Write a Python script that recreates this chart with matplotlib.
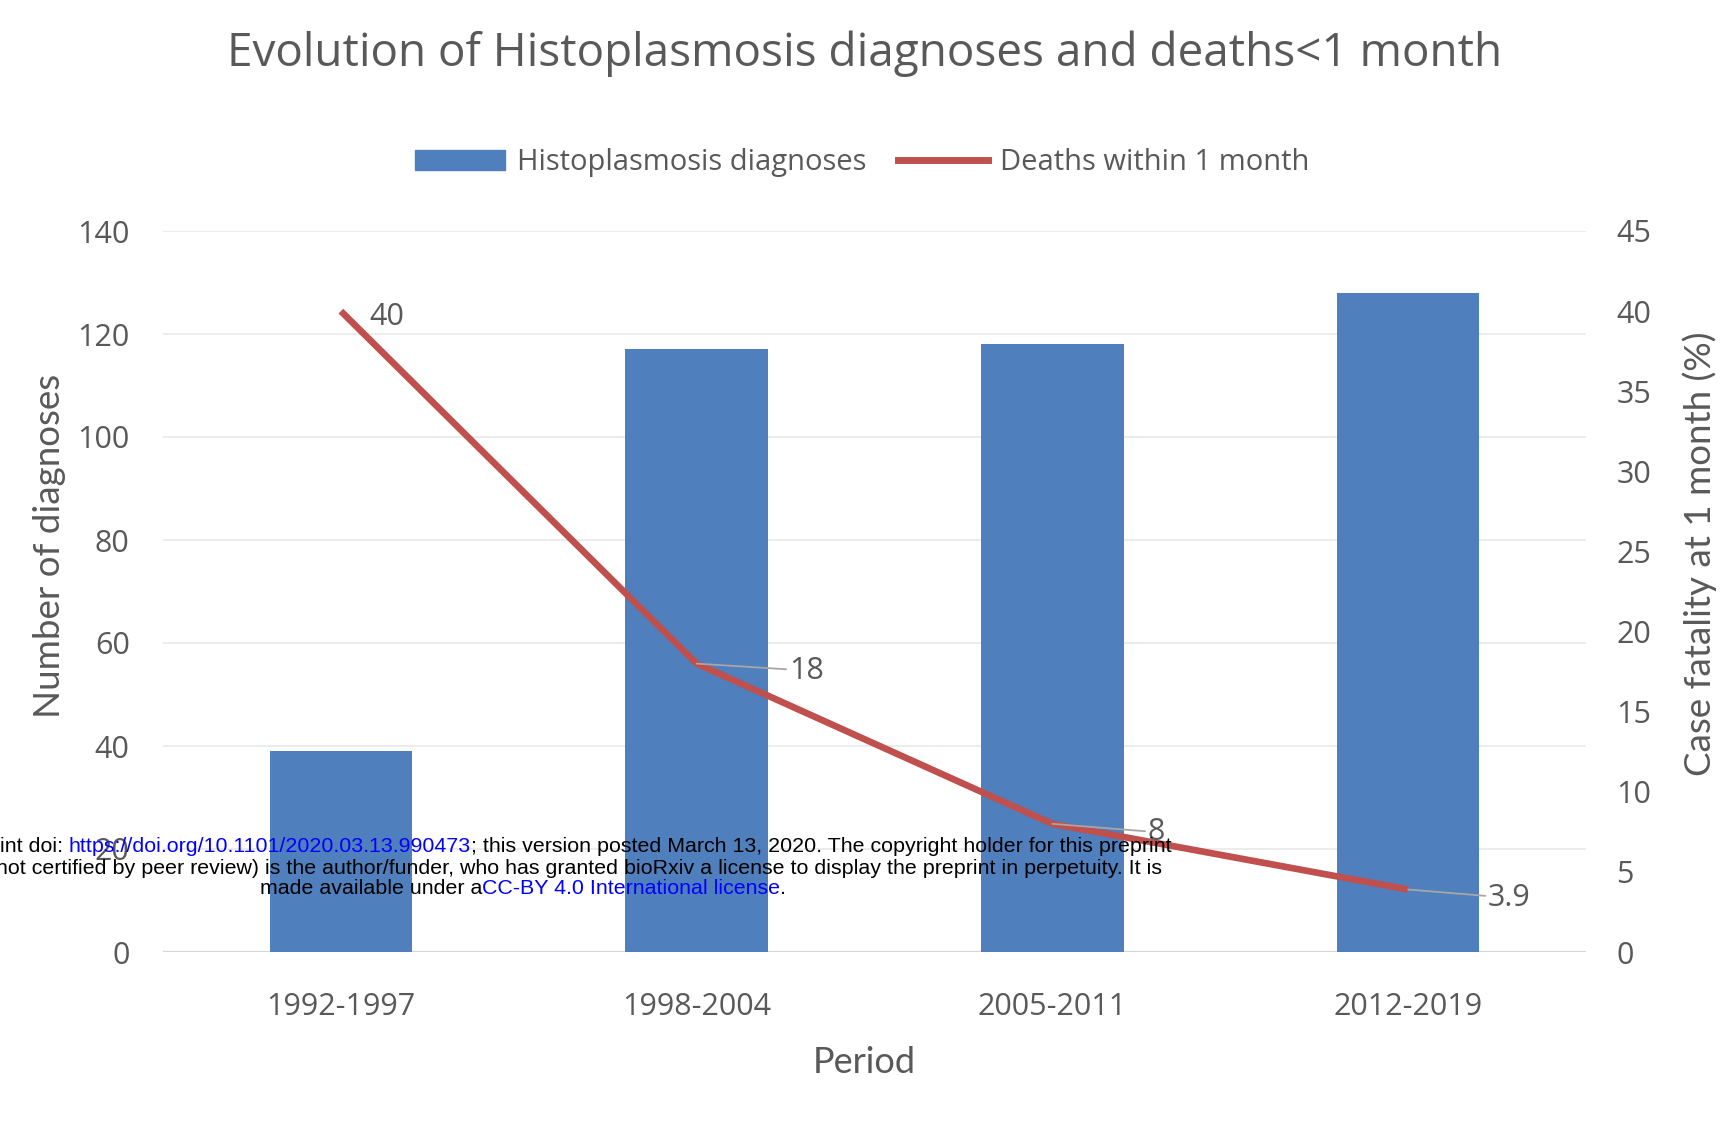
import matplotlib.pyplot as plt
from matplotlib.patches import Patch
from matplotlib.lines import Line2D
import numpy as np

periods = ["1992-1997", "1998-2004", "2005-2011", "2012-2019"]
diagnoses = [39, 117, 118, 128]
deaths_pct = [40, 18, 8, 3.9]
death_labels = ["40", "18", "8", "3.9"]

plt.rcParams['font.family'] = ['Open Sans', 'DejaVu Sans']
grey = '#595959'
bar_col = '#4f7fbc'
line_col = '#c0504d'

W, H = 1727, 1128
fig = plt.figure(figsize=(W / 100, H / 100), dpi=100)
ax = fig.add_axes([163 / W, 1 - 952 / H, (1586 - 163) / W, (952 - 231) / H])
ax2 = ax.twinx()

x = np.arange(len(periods))
ax.bar(x, diagnoses, width=0.4, color=bar_col, zorder=2)
ax.set_xlim(-0.5, 3.5)
ax.set_ylim(0, 140)
ax.set_yticks(range(0, 141, 20))
ax.grid(axis='y', color='#ebebeb', lw=1.3)
ax.set_axisbelow(True)
ax.axhline(0, color='#d6d6d6', lw=1.6, zorder=1)
ax.set_xticks(x)
ax.set_xticklabels(periods)
ax.tick_params(axis='x', length=0, pad=29, labelsize=22, labelcolor=grey)
ax.tick_params(axis='y', length=0, pad=24, labelsize=22, labelcolor=grey)
ax.set_xlabel("Period", fontsize=26, color=grey, family=['Lato', 'DejaVu Sans'])
ax.xaxis.set_label_coords(0.493, -0.13)
ax.set_ylabel("Number of diagnoses", fontsize=26.5, color=grey, family=['Lato', 'DejaVu Sans'])
ax.yaxis.set_label_coords(-0.068, 0.563)

ax2.plot(x, deaths_pct, color=line_col, lw=4.8, solid_capstyle='butt', zorder=3)
ax2.set_ylim(0, 45)
ax2.set_yticks(range(0, 46, 5))
ax2.tick_params(axis='y', length=0, pad=22, labelsize=22, labelcolor=grey)
ax2.set_ylabel("Case fatality at 1 month (%)", fontsize=26.5, color=grey,
               family=['Lato', 'DejaVu Sans'])
ax2.yaxis.set_label_coords(1.068, 0.552)
for a in (ax, ax2):
    for s in a.spines.values():
        s.set_visible(False)

# data labels with thin leader lines
offsets = [(33, -4), (79, -5), (75, -6), (73, -6)]
for i, (v, lab) in enumerate(zip(deaths_pct, death_labels)):
    arrow = None if i == 0 else dict(arrowstyle='-', color='#a6a6a6', lw=1.3,
                                     shrinkA=0, shrinkB=0)
    ax2.annotate(lab, (x[i], v), xytext=offsets[i], textcoords='offset points',
                 ha='center', va='center', fontsize=22, color=grey,
                 arrowprops=arrow, zorder=4)

fig.text(865 / W, 1 - 54 / H, "Evolution of Histoplasmosis diagnoses and deaths<1 month",
         ha='center', va='center', fontsize=33, color=grey)

handles = [Patch(color=bar_col), Line2D([], [], color=line_col, lw=5)]
fig.legend(handles, ["Histoplasmosis diagnoses", "Deaths within 1 month"],
           loc='center', bbox_to_anchor=(862 / W, 1 - 163 / H), ncol=2, frameon=False,
           fontsize=21, labelcolor=grey, handlelength=3.1, handletextpad=0.4,
           columnspacing=1.1)

# bioRxiv watermark overlay
wm_font = ['Liberation Sans', 'DejaVu Sans']
renderer = fig.canvas.get_renderer()


def write_line(y_px, x_px, parts):
    xpos = x_px
    for txt, col in parts:
        t = fig.text(xpos / W, 1 - y_px / H, txt, color=col, fontsize=15.4,
                     family=wm_font, ha='left', va='center', zorder=10)
        xpos += t.get_window_extent(renderer).width


write_line(847, 0, [("int doi: ", 'black'),
                    ("https://doi.org/10.1101/2020.03.13.990473", '#0000ff'),
                    ("; this version posted March 13, 2020. The copyright holder for this preprint", 'black')])
write_line(868, -4, [("not certified by peer review) is the author/funder, who has granted bioRxiv a license "
                      "to display the preprint in perpetuity. It is", 'black')])
write_line(889, 260, [("made available under a", 'black'),
                      ("CC-BY 4.0 International license", '#0000ff'),
                      (".", 'black')])

fig.savefig("out.png", dpi=100)
